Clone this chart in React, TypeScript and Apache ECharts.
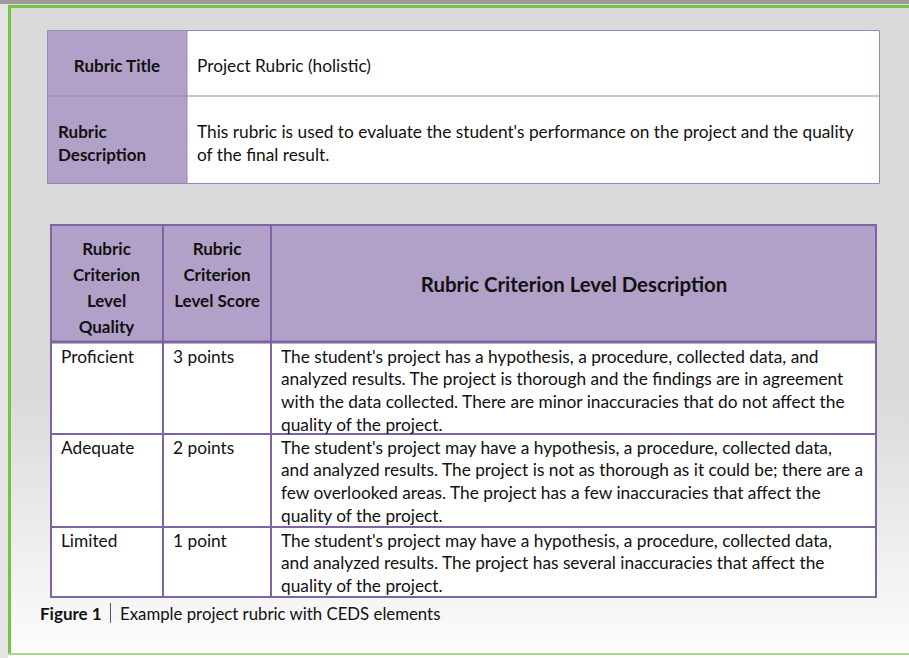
import React, { useEffect, useRef } from "react";
import * as echarts from "echarts";

// ---- Content ----
const rubricTitleLabel = "Rubric Title";
const rubricTitleValue = "Project Rubric (holistic)";
const rubricDescLabel = ["Rubric", "Description"];
const rubricDescLines = [
  "This rubric is used to evaluate the student's performance on the project and the quality",
  "of the final result.",
];
const headerCol1 = ["Rubric", "Criterion", "Level", "Quality"];
const headerCol2 = ["Rubric", "Criterion", "Level Score"];
const headerCol3 = "Rubric Criterion Level Description";
const criterionLevels = ["Proficient", "Adequate", "Limited"];
const criterionScores = ["3 points", "2 points", "1 point"];
const criterionDescriptions = [
  [
    "The student's project has a hypothesis, a procedure, collected data, and",
    "analyzed results. The project is thorough and the findings are in agreement",
    "with the data collected. There are minor inaccuracies that do not affect the",
    "quality of the project.",
  ],
  [
    "The student's project may have a hypothesis, a procedure, collected data,",
    "and analyzed results. The project is not as thorough as it could be; there are a",
    "few overlooked areas. The project has a few inaccuracies that affect the",
    "quality of the project.",
  ],
  [
    "The student's project may have a hypothesis, a procedure, collected data,",
    "and analyzed results. The project has several inaccuracies that affect the",
    "quality of the project.",
  ],
];
const captionLabel = "Figure 1";
const captionText = "Example project rubric with CEDS elements";

const FONT = "Lato, 'Open Sans', sans-serif";
const PURPLE = "#b1a0c7";
const BORDER = "#8064a2";
const BORDER_LIGHT = "#9b85c0";
const TEXT = "#111111";
const BODY = 17.3;
const BOLD = 17;

function txt(x: number, y: number, text: string, opts: any = {}) {
  return {
    type: "text",
    x,
    y,
    silent: true,
    style: {
      text,
      fill: TEXT,
      font: `${opts.bold ? "bold " : ""}${opts.size || (opts.bold ? BOLD : BODY)}px ${FONT}`,
      textAlign: opts.align || "left",
      textVerticalAlign: "middle",
    },
  };
}

function hline(x1: number, x2: number, y: number, w: number, color: string) {
  return { type: "line", silent: true, shape: { x1, y1: y, x2, y2: y }, style: { stroke: color, lineWidth: w } };
}
function vline(x: number, y1: number, y2: number, w: number, color: string) {
  return { type: "line", silent: true, shape: { x1: x, y1, x2: x, y2 }, style: { stroke: color, lineWidth: w } };
}

export default function App() {
  const ref = useRef<HTMLDivElement>(null);
  useEffect(() => {
    document.body.style.margin = "0";
    const chart = echarts.init(ref.current!, null, { renderer: "svg" });
    const els: any[] = [];

    // Background
    els.push({
      type: "rect",
      silent: true,
      shape: { x: 0, y: 0, width: 909, height: 658 },
      style: {
        fill: new echarts.graphic.LinearGradient(0, 0, 0, 1, [
          { offset: 0, color: "#d9d9d9" },
          { offset: 0.6, color: "#dadada" },
          { offset: 0.93, color: "#f7f7f7" },
          { offset: 1, color: "#fdfdfd" },
        ]),
      },
    });
    els.push({ type: "rect", silent: true, shape: { x: 0, y: 0, width: 909, height: 4 }, style: { fill: "#9c9c9c" } });
    els.push({ type: "rect", silent: true, shape: { x: 0, y: 655, width: 909, height: 3 }, style: { fill: "#ffffff" } });
    els.push({ type: "rect", silent: true, shape: { x: 0, y: 4, width: 8, height: 654 }, style: { fill: "#e4e4e4" } });
    els.push({ type: "rect", silent: true, shape: { x: 8, y: 5, width: 901, height: 3 }, style: { fill: "#79c143" } });
    els.push({ type: "rect", silent: true, shape: { x: 8, y: 5, width: 3, height: 650 }, style: { fill: "#79c143" } });
    els.push({ type: "rect", silent: true, shape: { x: 8, y: 653, width: 901, height: 2 }, style: { fill: "#a9d88a" } });

    // ---- Table 1 ----
    const t1 = { x: 47, y: 30, w: 833, h: 154, c1: 187, r1: 96 };
    els.push({ type: "rect", silent: true, shape: { x: t1.x, y: t1.y, width: t1.w, height: t1.h }, style: { fill: "#ffffff" } });
    els.push({ type: "rect", silent: true, shape: { x: t1.x, y: t1.y, width: t1.c1 - t1.x, height: t1.h }, style: { fill: PURPLE } });
    els.push(hline(t1.x, t1.x + t1.w, t1.r1, 1, BORDER_LIGHT));
    els.push(vline(t1.c1, t1.y, t1.y + t1.h, 1, BORDER_LIGHT));
    els.push({
      type: "rect",
      silent: true,
      shape: { x: t1.x + 0.5, y: t1.y + 0.5, width: t1.w - 1, height: t1.h - 1 },
      style: { fill: "none", stroke: BORDER_LIGHT, lineWidth: 1 },
    });
    els.push(txt((t1.x + t1.c1) / 2, 65, rubricTitleLabel, { bold: true, align: "center" }));
    els.push(txt(197, 65, rubricTitleValue));
    rubricDescLabel.forEach((s, i) => els.push(txt(58, 131 + i * 23, s, { bold: true })));
    rubricDescLines.forEach((s, i) => els.push(txt(197, 131 + i * 23, s)));

    // ---- Table 2 ----
    const t2 = { x: 50, y: 224, w: 827, hb: 343, c1: 163, c2: 271, bottom: 598 };
    const rowTops = [343, 434, 527];
    els.push({ type: "rect", silent: true, shape: { x: t2.x, y: t2.y, width: t2.w, height: t2.bottom - t2.y }, style: { fill: "#ffffff" } });
    els.push({ type: "rect", silent: true, shape: { x: t2.x, y: t2.y, width: t2.w, height: t2.hb - t2.y }, style: { fill: PURPLE } });
    els.push(hline(t2.x, t2.x + t2.w, t2.hb - 1, 3, BORDER));
    rowTops.slice(1).forEach((y) => els.push(hline(t2.x, t2.x + t2.w, y, 2, BORDER)));
    els.push(vline(t2.c1, t2.y, t2.bottom, 2, BORDER));
    els.push(vline(t2.c2, t2.y, t2.bottom, 2, BORDER));
    els.push({
      type: "rect",
      silent: true,
      shape: { x: t2.x + 1, y: t2.y + 1, width: t2.w - 2, height: t2.bottom - t2.y - 2 },
      style: { fill: "none", stroke: BORDER, lineWidth: 2 },
    });
    headerCol1.forEach((s, i) => els.push(txt((t2.x + t2.c1) / 2, 248 + i * 26, s, { bold: true, align: "center" })));
    headerCol2.forEach((s, i) => els.push(txt((t2.c1 + t2.c2) / 2, 248 + i * 26, s, { bold: true, align: "center" })));
    els.push(txt((t2.c2 + t2.x + t2.w) / 2, 284, headerCol3, { bold: true, align: "center", size: 20.4 }));

    criterionLevels.forEach((lvl, r) => {
      const y0 = rowTops[r] + 13;
      els.push(txt(61, y0, lvl));
      els.push(txt(173, y0, criterionScores[r]));
      criterionDescriptions[r].forEach((s, i) => els.push(txt(281, y0 + i * 22.7, s)));
    });

    // Caption
    els.push(txt(40, 613, captionLabel, { bold: true }));
    els.push(vline(110.5, 603, 623, 1, "#555555"));
    els.push(txt(120, 613, captionText, { size: 16.8 }));

    chart.setOption({ animation: false, graphic: { elements: els } });
    return () => chart.dispose();
  }, []);
  return <div ref={ref} style={{ width: 909, height: 658, fontVariantLigatures: "none" } as any} />;
}
